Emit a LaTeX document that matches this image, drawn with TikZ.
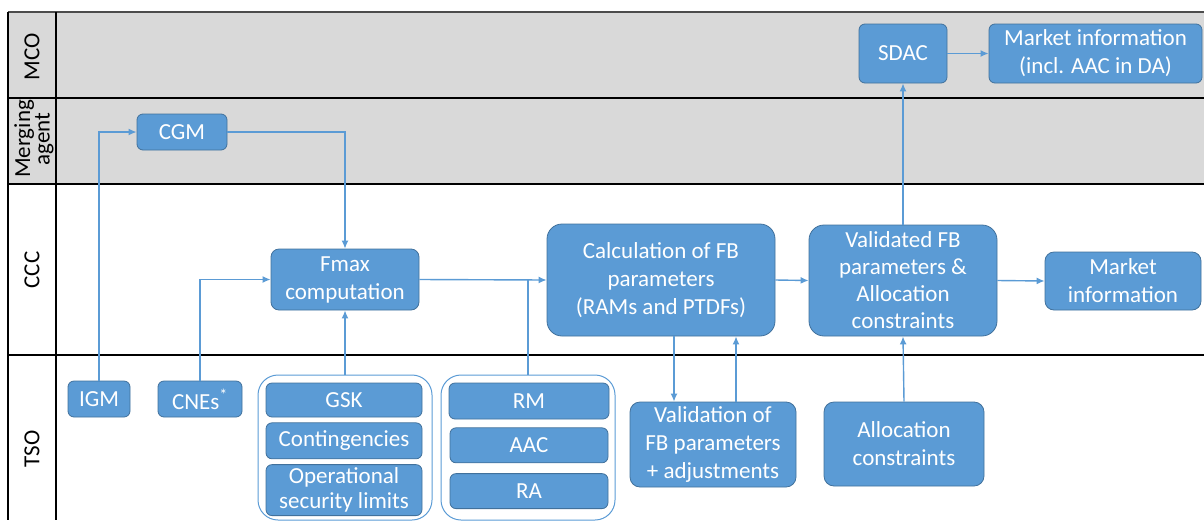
\documentclass[tikz,border=0pt]{standalone}
\usepackage{fontspec}
\setmainfont{Carlito}
\usepackage{xcolor}
\usepackage{tikz}
\usetikzlibrary{positioning}
\usetikzlibrary{arrows.meta}
\definecolor{boxblue}{HTML}{5B9BD5}
\definecolor{boxedge}{HTML}{41719C}
\definecolor{laneshade}{HTML}{D9D9D9}
\tikzset{edge/.style = {->,> = {Latex[length=8pt,width=7pt]}}}

\begin{document}
\begin{tikzpicture}[x=1pt,y=-1pt,line width=1.4pt,
    every node/.style={font=\fontsize{23}{28}\selectfont},
    box/.style={rectangle,draw=boxedge,line width=0.8pt,fill=boxblue,text=white,align=center,rounded corners=6pt,inner sep=0pt},
    bigbox/.style={box,rounded corners=15pt},
    midbox/.style={box,rounded corners=10pt},
    group/.style={rectangle,draw=boxblue,line width=1pt,rounded corners=20pt,inner sep=0pt},
    lane/.style={rotate=90,align=center,text=black},
    link/.style={draw=boxblue,line width=1.4pt}]
\useasboundingbox (0,0) rectangle (1204,520);

% swimlanes
\fill[laneshade] (8,12) rectangle (1204,184);
\draw[black!70] (8,12) -- (1204,12);
\foreach \y in {98,184,355}
  \draw[black] (8,\y) -- (1204,\y);
\draw[black] (8,12) -- (8,520);
\draw[black] (56,12) -- (56,520);
\node[lane] (mcolbl) at (32,57) {MCO};
\node[lane,font=\fontsize{23}{17}\selectfont] (malbl) at (34,139) {Merging\\agent};
\node[lane] (ccclbl) at (32,270) {CCC};
\node[lane] (tsolbl) at (32,449) {TSO};

% MCO
\node[box,minimum width=88pt,minimum height=59pt] (sdac) at (903,53.5) {SDAC};
\node[box,minimum width=213pt,minimum height=59pt] (mktda) at (1095.5,53.5) {Market information\\(incl. AAC in DA)};

% merging agent
\node[box,minimum width=90pt,minimum height=36pt] (cgm) at (182,132) {CGM};

% CCC
\node[box,rounded corners=8pt,minimum width=148pt,minimum height=61pt] (fmax) at (345,279.5) {Fmax\\computation};
\node[bigbox,minimum width=228pt,minimum height=112pt] (calc) at (661,280) {Calculation of FB\\parameters\\(RAMs and PTDFs)};
\node[bigbox,minimum width=188pt,minimum height=111pt,font=\fontsize{23}{27}\selectfont] (vfb) at (903,280.5) {Validated FB\\parameters \&\\Allocation\\constraints};
\node[box,rounded corners=9pt,minimum width=156pt,minimum height=58pt] (mkt) at (1123,281) {Market\\information};

% TSO
\node[box,minimum width=62pt,minimum height=36pt] (igm) at (99,399) {IGM};
\node[box,minimum width=84pt,minimum height=36pt] (cnes) at (200,399) {CNEs\textsuperscript{*}};

\node[group,minimum width=174pt,minimum height=145pt] (grpa) at (345,447.5) {};
\node[box,minimum width=156pt,minimum height=34pt] (gsk) at (344,400) {GSK};
\node[box,minimum width=156pt,minimum height=36pt,below=5pt of gsk] (cont) {Contingencies};
\node[box,minimum width=156pt,minimum height=51pt,below=5pt of cont,font=\fontsize{23}{25}\selectfont] (opsec) {Operational\\security limits};

\node[group,minimum width=174pt,minimum height=145pt] (grpb) at (528,447.5) {};
\node[box,minimum width=160pt,minimum height=36pt] (rm) at (529,401) {RM};
\node[box,minimum width=158pt,minimum height=35pt,below=8pt of rm] (aac) {AAC};
\node[box,minimum width=158pt,minimum height=35pt,below=10pt of aac] (ra) {RA};

\node[midbox,minimum width=166pt,minimum height=85pt] (valid) at (713,444.5) {Validation of\\FB parameters\\+ adjustments};
\node[midbox,minimum width=160pt,minimum height=84pt] (alloc) at (904,444) {Allocation\\constraints};

% connectors
\draw[link,edge] (igm.north) |- (cgm.west);
\draw[link,edge] (cgm.east) -| (fmax.north);
\draw[link,edge] (cnes.north) |- (fmax.west);
\draw[link,edge] (grpa.north) -- (fmax.south);
\draw[link,edge] (fmax.east) -- (calc.west);
\draw[link] (grpb.north) -- (grpb.north |- calc.west);
\draw[link,edge] ([xshift=13pt]calc.south) -- ([xshift=13pt]calc.south |- valid.north);
\draw[link,edge] ([xshift=75pt]calc.south |- valid.north) -- ([xshift=75pt]calc.south);
\draw[link,edge] (calc.east) -- (vfb.west);
\draw[link,edge] (vfb.east) -- (mkt.west);
\draw[link,edge] (alloc.north) -- (vfb.south);
\draw[link,edge] (vfb.north) -- (sdac.south);
\draw[link,edge] (sdac.east) -- (mktda.west);
\end{tikzpicture}
\end{document}
